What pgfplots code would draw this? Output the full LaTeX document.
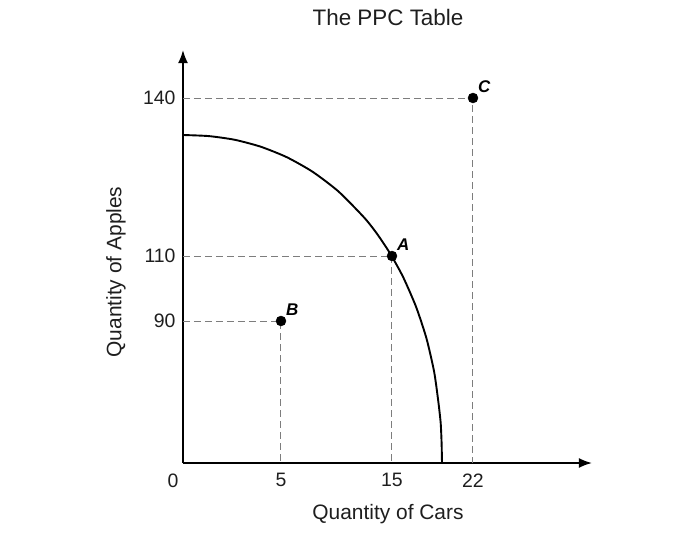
\documentclass[border=0pt]{standalone}
\usepackage{fontspec}
\setmainfont{Liberation Sans}
\usepackage{pgfplots}
\pgfplotsset{compat=1.18}
\usetikzlibrary{arrows.meta}
\definecolor{txt}{RGB}{30,30,30}
\definecolor{dashgray}{RGB}{125,125,125}
\begin{document}
\begin{tikzpicture}
\path[use as bounding box] (-183bp,-72bp) rectangle (504bp,463bp);
\begin{axis}[
  x=1bp, y=1bp,
  xmin=0, xmax=409, ymin=0, ymax=413,
  axis lines=left,
  axis line style={line width=1.8bp, -{Latex[length=13bp,width=10bp]}},
  major tick length=0pt,
  xtick={98,209,290}, xticklabels={5,15,22},
  ytick={142,207,365}, yticklabels={90,110,140},
  tick label style={font=\fontsize{19.5}{22}\selectfont, text=txt},
  /pgf/number format/assume math mode=true,
  xticklabel style={yshift=-7bp},
  yticklabel style={xshift=-4bp},
  clip=false,
]
\addplot[dashgray, line width=1bp, dash pattern=on 7bp off 4bp] coordinates {(0,142) (98,142) (98,0)};
\addplot[dashgray, line width=1bp, dash pattern=on 7bp off 4bp] coordinates {(0,207) (209,207) (209,0)};
\addplot[dashgray, line width=1bp, dash pattern=on 7bp off 4bp] coordinates {(0,365) (290,365) (290,0)};
\addplot[black, line width=1.9bp, smooth, tension=0.4] coordinates {
(0,328) (25.9,326.9) (51.8,323.2) (77.7,316.3) (103.6,305.9) (129.5,291.3)
(155.4,271.6) (181.3,245.3) (194.25,228.9) (207.2,209.4) (220.15,185.9)
(233.1,156.1) (243.5,124.5) (251.2,90.9) (255.5,60) (257.7,39.8) (258.6,20) (259,0)};
\addplot[only marks, mark=*, mark size=5bp, black,
  point meta=explicit symbolic,
  nodes near coords,
  nodes near coords style={anchor=south west, font=\fontsize{17}{19}\selectfont\bfseries\itshape, inner sep=0bp, xshift=5bp, yshift=5bp, text=black}]
  coordinates {(98,142) [B] (209,207) [A] (290,365) [C]};
\node[font=\fontsize{19.5}{22}\selectfont, text=txt, inner sep=0pt] at (axis cs:-10,-18) {0};
\node[font=\fontsize{21}{24}\selectfont, text=txt] at (axis cs:205,-51) {Quantity of Cars};
\node[font=\fontsize{21}{24}\selectfont, text=txt, rotate=90] at (axis cs:-67,191) {Quantity of Apples};
\node[font=\fontsize{22.5}{26}\selectfont, text=txt] at (axis cs:205,446) {The PPC Table};
\end{axis}
\end{tikzpicture}
\end{document}
